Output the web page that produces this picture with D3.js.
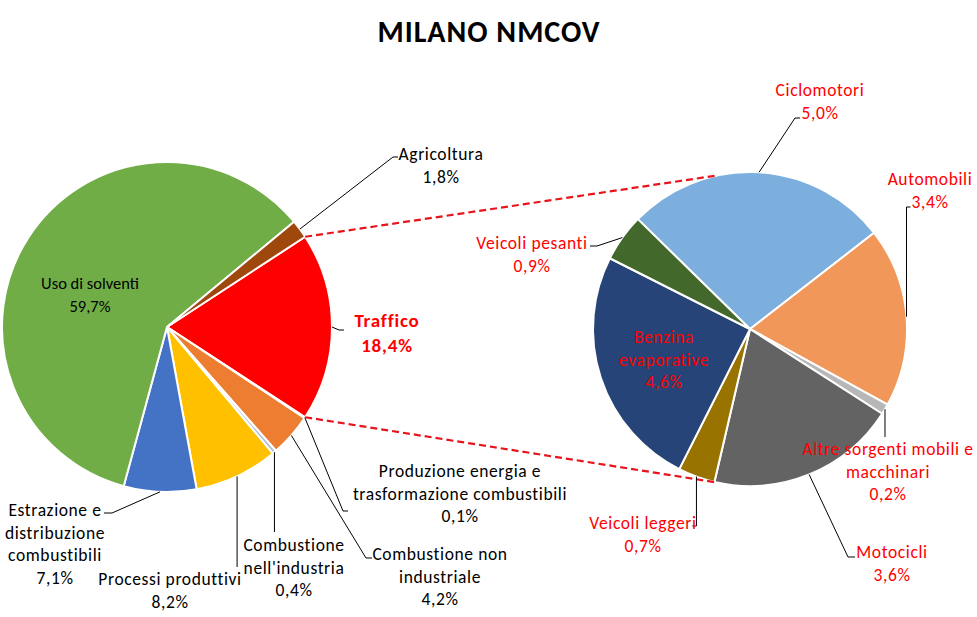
<!DOCTYPE html>
<html><head><meta charset="utf-8">
<script src="https://cdn.jsdelivr.net/npm/d3@7"></script>
<style>
body{margin:0;background:#fff;}
text{font-family:Carlito,Calibri,Lato,"Open Sans",sans-serif;}
</style></head>
<body><svg id="c" width="977" height="617"></svg>
<script>
// ---- data ----
const title = "MILANO NMCOV";
const leftCategories = ["Traffico","Produzione energia e\ntrasformazione combustibili","Combustione non\nindustriale","Combustione\nnell'industria","Processi produttivi","Estrazione e\ndistribuzione\ncombustibili","Uso di solventi","Agricoltura"];
const leftValues = [18.4, 0.1, 4.2, 0.4, 8.2, 7.1, 59.7, 1.8];
const rightCategories = ["Ciclomotori","Automobili","Altre sorgenti mobili e\nmacchinari","Motocicli","Veicoli leggeri","Benzina\nevaporative","Veicoli pesanti"];
const rightValues = [5.0, 3.4, 0.2, 3.6, 0.7, 4.6, 0.9];

// ---- styles / layout ----
const leftColors = ["#FF0000","#A5A5A5","#ED7D31","#B4C2D8","#FFC000","#4472C4","#70AD47","#9E480E"];
const rightColors = ["#7DAFDE","#F1975A","#B7B7B7","#636363","#997300","#264478","#43682B"];
const L = {cx:167, cy:327, r:165};
const R = {cx:750, cy:329, r:157};
const rightStart = -45.6*Math.PI/180;
const red = "#FF0000";

const fmt = v => v.toFixed(1).replace('.', ',') + '%';
const svg = d3.select("#c");

svg.append("text").attr("x",489).attr("y",42).attr("text-anchor","middle")
  .attr("font-size",30).attr("letter-spacing",1).attr("font-weight","bold").attr("fill","#000").text(title);

const leftTotal = d3.sum(leftValues);
const lStart = Math.PI/2 - (leftValues[0]/leftTotal)*Math.PI;
const leftPie = d3.pie().sort(null).startAngle(lStart).endAngle(lStart+2*Math.PI)(leftValues);
const rightPie = d3.pie().sort(null).startAngle(rightStart).endAngle(rightStart+2*Math.PI)(rightValues);
const arcL = d3.arc().innerRadius(0).outerRadius(L.r);
const arcR = d3.arc().innerRadius(0).outerRadius(R.r);

const gL = svg.append("g").attr("transform",`translate(${L.cx},${L.cy})`);
gL.selectAll("path").data(leftPie).join("path").attr("d",arcL)
  .attr("fill",(d,i)=>leftColors[i]).attr("stroke","#fff").attr("stroke-width",2).attr("stroke-linejoin","round");
const gR = svg.append("g").attr("transform",`translate(${R.cx},${R.cy})`);
gR.selectAll("path").data(rightPie).join("path").attr("d",arcR)
  .attr("fill",(d,i)=>rightColors[i]).attr("stroke","#fff").attr("stroke-width",2).attr("stroke-linejoin","round");

const pt = (c, a, r) => [c.cx + r*Math.sin(a), c.cy - r*Math.cos(a)];
const mid = d => (d.startAngle + d.endAngle)/2;

// connectors
const connAngle = 12*Math.PI/180;
const connLines = [
  [pt(L, leftPie[0].startAngle, L.r), pt(R, -connAngle, R.r)],
  [pt(L, leftPie[0].endAngle, L.r), pt(R, Math.PI+connAngle, R.r)]
];
svg.selectAll("line.conn").data(connLines).join("line").attr("class","conn")
  .attr("x1",d=>d[0][0]).attr("y1",d=>d[0][1]).attr("x2",d=>d[1][0]).attr("y2",d=>d[1][1])
  .attr("stroke","#E8141C").attr("stroke-width",2.2).attr("stroke-dasharray","7,4");

// leader lines & labels
const labels = [
  {s:"L", i:0, x:387, y:327, pts:[[339,330],[344,330]], col:red, bold:true, fs:19, ls:0.8},
  {s:"L", i:1, x:460, y:477, pts:[[343,511],[348,511]]},
  {s:"L", i:2, x:440, y:560, pts:[[366,558],[372,558]]},
  {s:"L", i:3, x:294, y:551, pts:["v",532]},
  {s:"L", i:4, x:170, y:585, pts:["v",567]},
  {s:"L", i:5, x:55, y:516, pts:[[112,513],[104,513]]},
  {s:"L", i:6, x:90, y:289, pts:null, fs:16.5, ls:0},
  {s:"L", i:7, x:441, y:160, pts:[[393,157],[398,157]]},
  {s:"R", i:0, x:820, y:96, pts:[[795,118],[800,118]], col:red},
  {s:"R", i:1, x:930, y:185, pts:["v",207,4], col:red},
  {s:"R", i:2, x:888, y:455, pts:["v",437], col:red},
  {s:"R", i:3, x:892, y:558, pts:[[848,557],[855,557]], col:red},
  {s:"R", i:4, x:643, y:529, pts:["v",526,-4], col:red},
  {s:"R", i:5, x:664, y:343, pts:null, col:red},
  {s:"R", i:6, x:532, y:249, pts:[[597,246],[590,246]], col:red}
];

labels.forEach(l => {
  const pie = l.s==="L" ? leftPie : rightPie;
  const c = l.s==="L" ? L : R;
  const cats = l.s==="L" ? leftCategories : rightCategories;
  const vals = l.s==="L" ? leftValues : rightValues;
  const d = pie[l.i];
  if (l.pts) {
    const st = pt(c, mid(d), c.r);
    let pts;
    if (l.pts[0]==="v") {
      pts = [st, [st[0], l.pts[1]]];
      if (l.pts[2]) pts.push([st[0]+l.pts[2], l.pts[1]]);
    } else pts = [st, ...l.pts];
    svg.append("path").attr("d", d3.line()(pts)).attr("fill","none")
      .attr("stroke","#000").attr("stroke-width",1);
  }
  const lines = cats[l.i].split("\n").concat([fmt(vals[l.i])]);
  const t = svg.append("text").attr("text-anchor","middle")
    .attr("font-size", l.fs || 17.5).attr("letter-spacing", l.ls == null ? 0.6 : l.ls)
    .attr("fill", l.col || "#000")
    .attr("font-weight", l.bold ? "bold" : "normal");
  lines.forEach((s,k) => t.append("tspan").attr("x", l.x).attr("y", l.y + k*(l.bold?25:22.5)).text(s));
});
</script></body></html>
